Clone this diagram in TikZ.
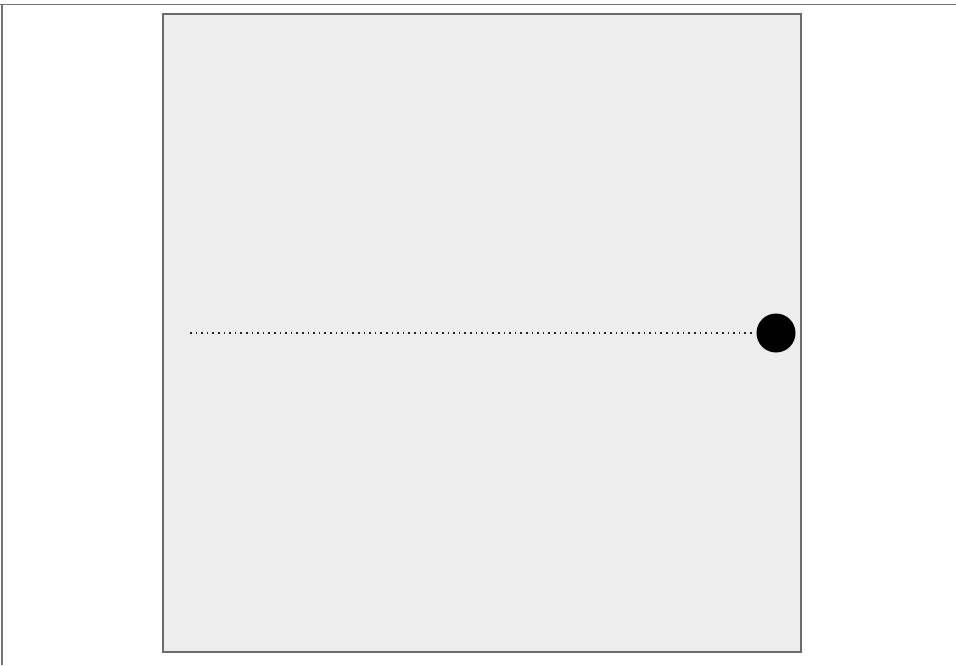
\documentclass[tikz,border=0pt]{standalone}
\begin{document}
\begin{tikzpicture}[x=1pt,y=-1pt,
  framebox/.style={draw=black!58,line width=1.8pt,fill=black!7,minimum width=638pt,minimum height=638pt,inner sep=0pt,outer sep=0pt},
  ball/.style={circle,fill=black,draw=none,minimum size=39pt,inner sep=0pt},
  dotline/.style={draw=black!85,line width=1.8pt,dash pattern=on 1.6pt off 4pt,shorten >=4pt},
  edge/.style={draw=black!55,line width=1.4pt}]
\useasboundingbox (0,0) rectangle (956,665);
\draw[edge] (0,4.5) -- (956,4.5);
\draw[edge] (2,4.5) -- (2,665);
\node[framebox] (sq) at (482,333) {};
\node[ball] (dot) at (776,333) {};
\coordinate (start) at (190,333);
\draw[dotline] (start) -- (dot.west);
\end{tikzpicture}
\end{document}
